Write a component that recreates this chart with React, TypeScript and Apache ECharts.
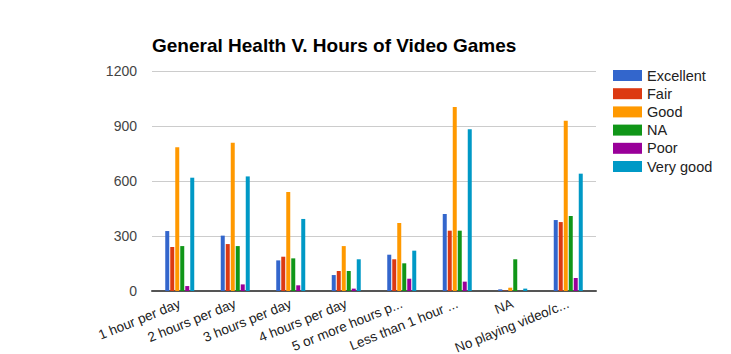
import React, { useEffect, useRef } from "react";
import * as echarts from "echarts";

const categories = [
  "1 hour per day",
  "2 hours per day",
  "3 hours per day",
  "4 hours per day",
  "5 or more hours p...",
  "Less than 1 hour ...",
  "NA",
  "No playing video/c...",
];
const seriesNames = ["Excellent", "Fair", "Good", "NA", "Poor", "Very good"];
const excellent = [327, 302, 167, 87, 198, 420, 9, 387];
const fair = [240, 256, 187, 109, 173, 329, 2, 376];
const good = [784, 809, 540, 245, 371, 1004, 18, 929];
const na = [245, 245, 178, 109, 151, 329, 173, 409];
const poor = [27, 36, 31, 13, 67, 51, 0, 71];
const veryGood = [618, 625, 393, 173, 220, 882, 13, 640];
const yTicks = [0, 300, 600, 900, 1200];
const colors = ["#3366cc", "#dc3912", "#ff9900", "#109618", "#990099", "#0099c6"];

export default function App() {
  const ref = useRef<HTMLDivElement>(null);
  useEffect(() => {
    const chart = echarts.init(ref.current!, null, { renderer: "svg" });
    const data = [excellent, fair, good, na, poor, veryGood];
    chart.setOption({
      animation: false,
      textStyle: { fontFamily: "Liberation Sans, Arial, sans-serif" },
      title: {
        text: "General Health V. Hours of Video Games",
        left: 147,
        top: 31,
        textStyle: { fontSize: 19, fontWeight: "bold", color: "#000" },
      },
      legend: {
        left: 608,
        top: 63,
        orient: "vertical",
        itemWidth: 29,
        itemHeight: 11,
        itemGap: 3.2,
        icon: "rect",
        textStyle: { fontSize: 14.5, color: "#222" },
        data: seriesNames,
      },
      grid: {
        left: 152,
        right: 135,
        top: 71,
        bottom: 63,
        containLabel: false,
        outerBoundsMode: "none",
      },
      xAxis: {
        type: "category",
        data: categories,
        axisTick: { show: false },
        axisLine: { lineStyle: { color: "#555", width: 2 } },
        axisLabel: { rotate: 22, fontSize: 13.5, color: "#222", margin: 12, interval: 0 },
      },
      yAxis: {
        type: "value",
        min: yTicks[0],
        max: yTicks[yTicks.length - 1],
        interval: 300,
        axisLine: { show: false },
        axisTick: { show: false },
        axisLabel: { fontSize: 14, color: "#444", margin: 15, formatter: (v: number) => String(v) },
        splitLine: { lineStyle: { color: "#ccc", width: 1 } },
      },
      series: seriesNames.map((name, i) => ({
        name,
        type: "bar",
        data: data[i],
        barWidth: 4,
        barGap: "25%",
        itemStyle: { color: colors[i] },
      })),
    });
    return () => chart.dispose();
  }, []);
  return (
    <div
      ref={ref}
      style={{ position: "fixed", left: 0, top: 0, width: 731, height: 354, background: "#fff" }}
    />
  );
}
